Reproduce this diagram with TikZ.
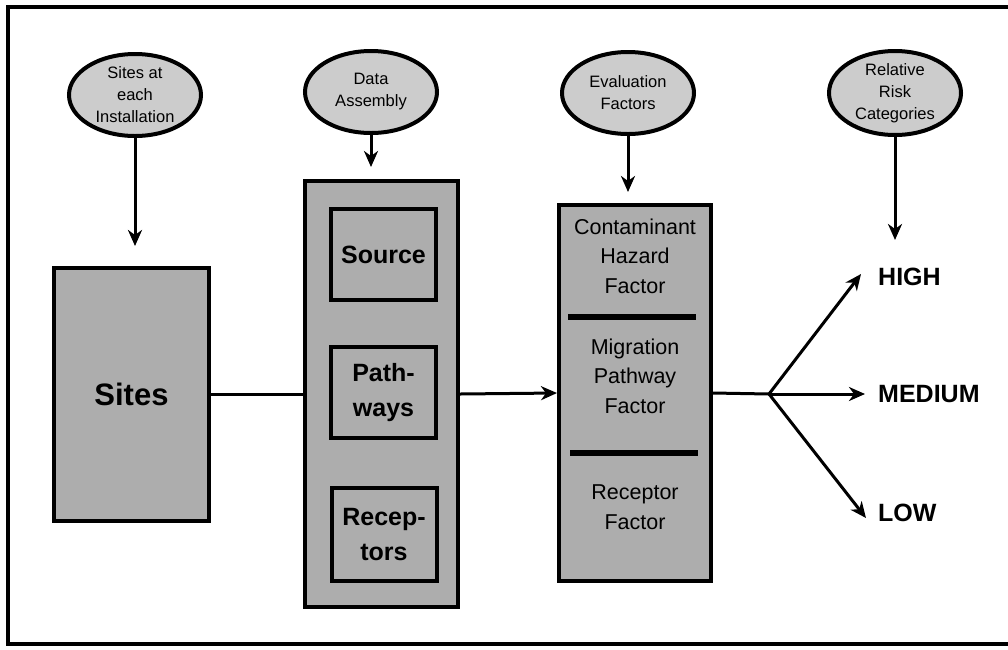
\documentclass[tikz,border=0pt]{standalone}
\usepackage{fontspec}
\setmainfont{Liberation Sans}
\usetikzlibrary{shapes.geometric,arrows.meta}
\definecolor{boxgray}{gray}{0.68}
\definecolor{ellgray}{gray}{0.80}
\begin{document}
\begin{tikzpicture}[x=1pt,y=-1pt,
  ell/.style={ellipse,draw,line width=4pt,fill=ellgray,minimum width=132pt,minimum height=82pt,inner sep=0pt,align=center,font=\fontsize{16.5}{22}\selectfont},
  bigbox/.style={draw,line width=4pt,fill=boxgray,inner sep=0pt},
  subbox/.style={draw,line width=4pt,fill=boxgray,inner sep=0pt,align=center,minimum width=105pt,font=\fontsize{25}{35}\selectfont\bfseries},
  conn/.style={line width=3pt},
  arr/.style={conn,-{Stealth[length=16pt,width=14pt,inset=5pt]}},
  lab/.style={font=\fontsize{25}{30}\selectfont\bfseries,anchor=west,inner sep=0pt},
  evtext/.style={align=center,font=\fontsize{21.5}{29.5}\selectfont},
  divider/.style={line width=5.5pt}
]
\useasboundingbox (0,0) rectangle (1008,649);
\draw[line width=4pt] (8,7) rectangle (1020,644);

% ellipses
\node[ell] (e1) at (135,95) {Sites at\\each\\Installation};
\node[ell] (e2) at (371,92) {Data\\Assembly};
\node[ell] (e3) at (628,93) {Evaluation\\Factors};
\node[ell] (e4) at (895,93) {Relative\\Risk\\Categories};

% sites
\node[bigbox,minimum width=155pt,minimum height=253pt,font=\fontsize{31}{36}\selectfont\bfseries] (sites) at (131.5,394.5) {Sites};

% data assembly
\node[bigbox,minimum width=153pt,minimum height=426pt] (da) at (381.5,394) {};
\node[subbox,minimum height=91pt] (src) at (383.5,254.5) {Source};
\node[subbox,minimum height=91pt] (path) at (383.5,392.5) {Path-\\ways};
\node[subbox,minimum height=93pt] (rec) at (384,534.5) {Recep-\\tors};

% evaluation
\node[bigbox,minimum width=152pt,minimum height=376pt] (eval) at (635,393) {};
\draw[divider] (568,317) -- (696,317);
\draw[divider] (570,453) -- (698,453);
\node[evtext] (ch) at (635,256) {Contaminant\\Hazard\\Factor};
\node[evtext] (mp) at (635,376) {Migration\\Pathway\\Factor};
\node[evtext] (rf) at (635,507) {Receptor\\Factor};

% outcome labels
\node[lab] (high) at (878,277) {HIGH};
\node[lab] (med) at (878,394) {MEDIUM};
\node[lab] (low) at (878,513) {LOW};

% connectors
\draw[arr,shorten >=20pt] (e1.south) -- (e1.south |- sites.north);
\draw[arr,shorten >=12pt] (e2.south) -- (e2.south |- da.north);
\draw[arr,shorten >=11pt] (e3.south) -- (e3.south |- eval.north);
\coordinate (e4tip) at (895,240);
\draw[arr] (e4.south) -- (e4tip);
\draw[conn] (sites.east) -- (sites.east -| da.west);
\draw[arr] (da.east) -- (eval.west);
\coordinate (br) at (769,394);
\draw[conn] (eval.east) -- (br);
\coordinate (hitip) at (861,274);
\coordinate (medtip) at (865,394);
\coordinate (lotip) at (866,518);
\draw[arr] (br) -- (hitip);
\draw[arr] (br) -- (medtip);
\draw[arr] (br) -- (lotip);
\end{tikzpicture}
\end{document}
